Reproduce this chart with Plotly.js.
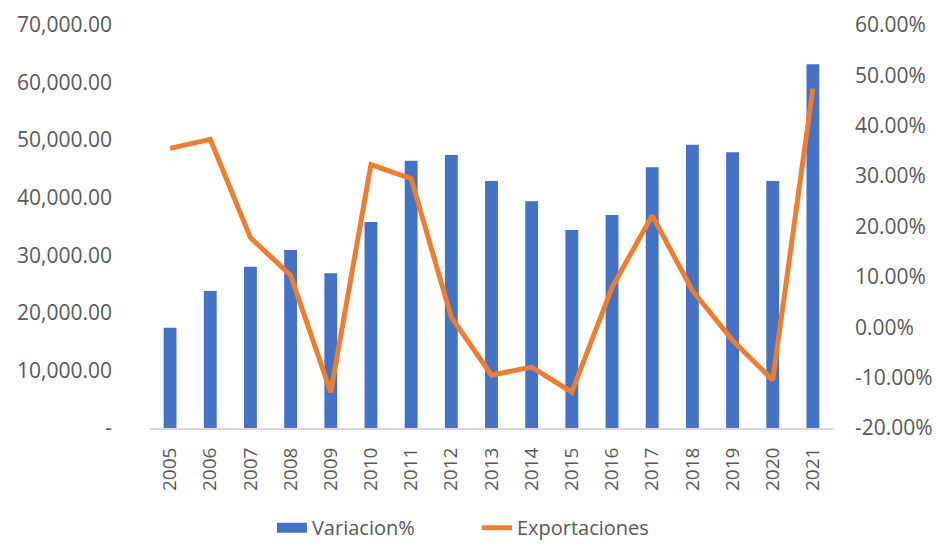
<!DOCTYPE html>
<html>
<head>
<meta charset="utf-8">
<script src="https://cdn.plot.ly/plotly-3.0.1.min.js"></script>
<style>html,body{margin:0;padding:0;background:#fff;}#chart{width:937px;height:544px;}</style>
</head>
<body>
<div id="chart"></div>
<script>
const years = ['2005','2006','2007','2008','2009','2010','2011','2012','2013','2014','2015','2016','2017','2018','2019','2020','2021'];
const barValues = [17400, 23800, 28000, 30900, 26900, 35800, 46400, 47400, 42900, 39400, 34400, 37000, 45300, 49200, 47900, 42900, 63200];
const lineValues = [35.5, 37.3, 17.8, 10.3, -12.9, 32.3, 29.5, 2.0, -9.5, -7.9, -12.9, 7.9, 22.2, 7.3, -2.6, -10.5, 47.4];
const leftTickVals = [0, 10000, 20000, 30000, 40000, 50000, 60000, 70000];
const leftTickText = ['-', '10,000.00', '20,000.00', '30,000.00', '40,000.00', '50,000.00', '60,000.00', '70,000.00'];
const rightTickVals = [-20, -10, 0, 10, 20, 30, 40, 50, 60];
const rightTickText = ['-20.00%', '-10.00%', '0.00%', '10.00%', '20.00%', '30.00%', '40.00%', '50.00%', '60.00%'];

const fontFam = 'Open Sans, Noto Sans, sans-serif';
const grey = '#595959';

const traces = [
  {
    type: 'bar', name: 'Variacion%', x: years, y: barValues,
    marker: {color: '#4472C4'}, width: 0.32, yaxis: 'y', showlegend: false
  },
  {
    // legend proxy for the bar series (wide rectangular swatch)
    type: 'scatter', mode: 'lines', name: 'Variacion%', x: [null], y: [null],
    line: {color: '#4472C4', width: 14}, yaxis: 'y', hoverinfo: 'skip'
  },
  {
    type: 'scatter', mode: 'lines', name: 'Exportaciones', x: years, y: lineValues,
    line: {color: '#ED7D31', width: 5}, yaxis: 'y2'
  }
];

const layout = {
  width: 937, height: 544,
  margin: {l: 150, r: 104, t: 25, b: 116},
  paper_bgcolor: '#fff', plot_bgcolor: '#fff',
  showlegend: true,
  legend: {
    orientation: 'h', xref: 'container', yref: 'container',
    x: 0.509, xanchor: 'center', y: 0.03, yanchor: 'middle',
    font: {family: fontFam, size: 20, color: grey}, entrywidth: 160, entrywidthmode: 'pixels', tracegroupgap: 0
  },
  xaxis: {
    type: 'category', tickangle: -90, showgrid: false, showline: true,
    linecolor: '#d9d9d9', linewidth: 2, ticks: '',
    tickfont: {family: fontFam, size: 19, color: grey}, ticklabelstandoff: 10
  },
  yaxis: {
    range: [0, 70000], tickvals: leftTickVals, ticktext: leftTickText,
    showgrid: false, zeroline: false, showline: false, ticks: '',
    tickfont: {family: fontFam, size: 21, color: grey}, ticklabelstandoff: 37
  },
  yaxis2: {
    range: [-20, 60], tickvals: rightTickVals, ticktext: rightTickText,
    overlaying: 'y', side: 'right', showgrid: false, zeroline: false, showline: false, ticks: '',
    tickfont: {family: fontFam, size: 21, color: grey}, ticklabelstandoff: 21
  }
};

Plotly.newPlot('chart', traces, layout, {displayModeBar: false, staticPlot: true});
</script>
</body>
</html>
